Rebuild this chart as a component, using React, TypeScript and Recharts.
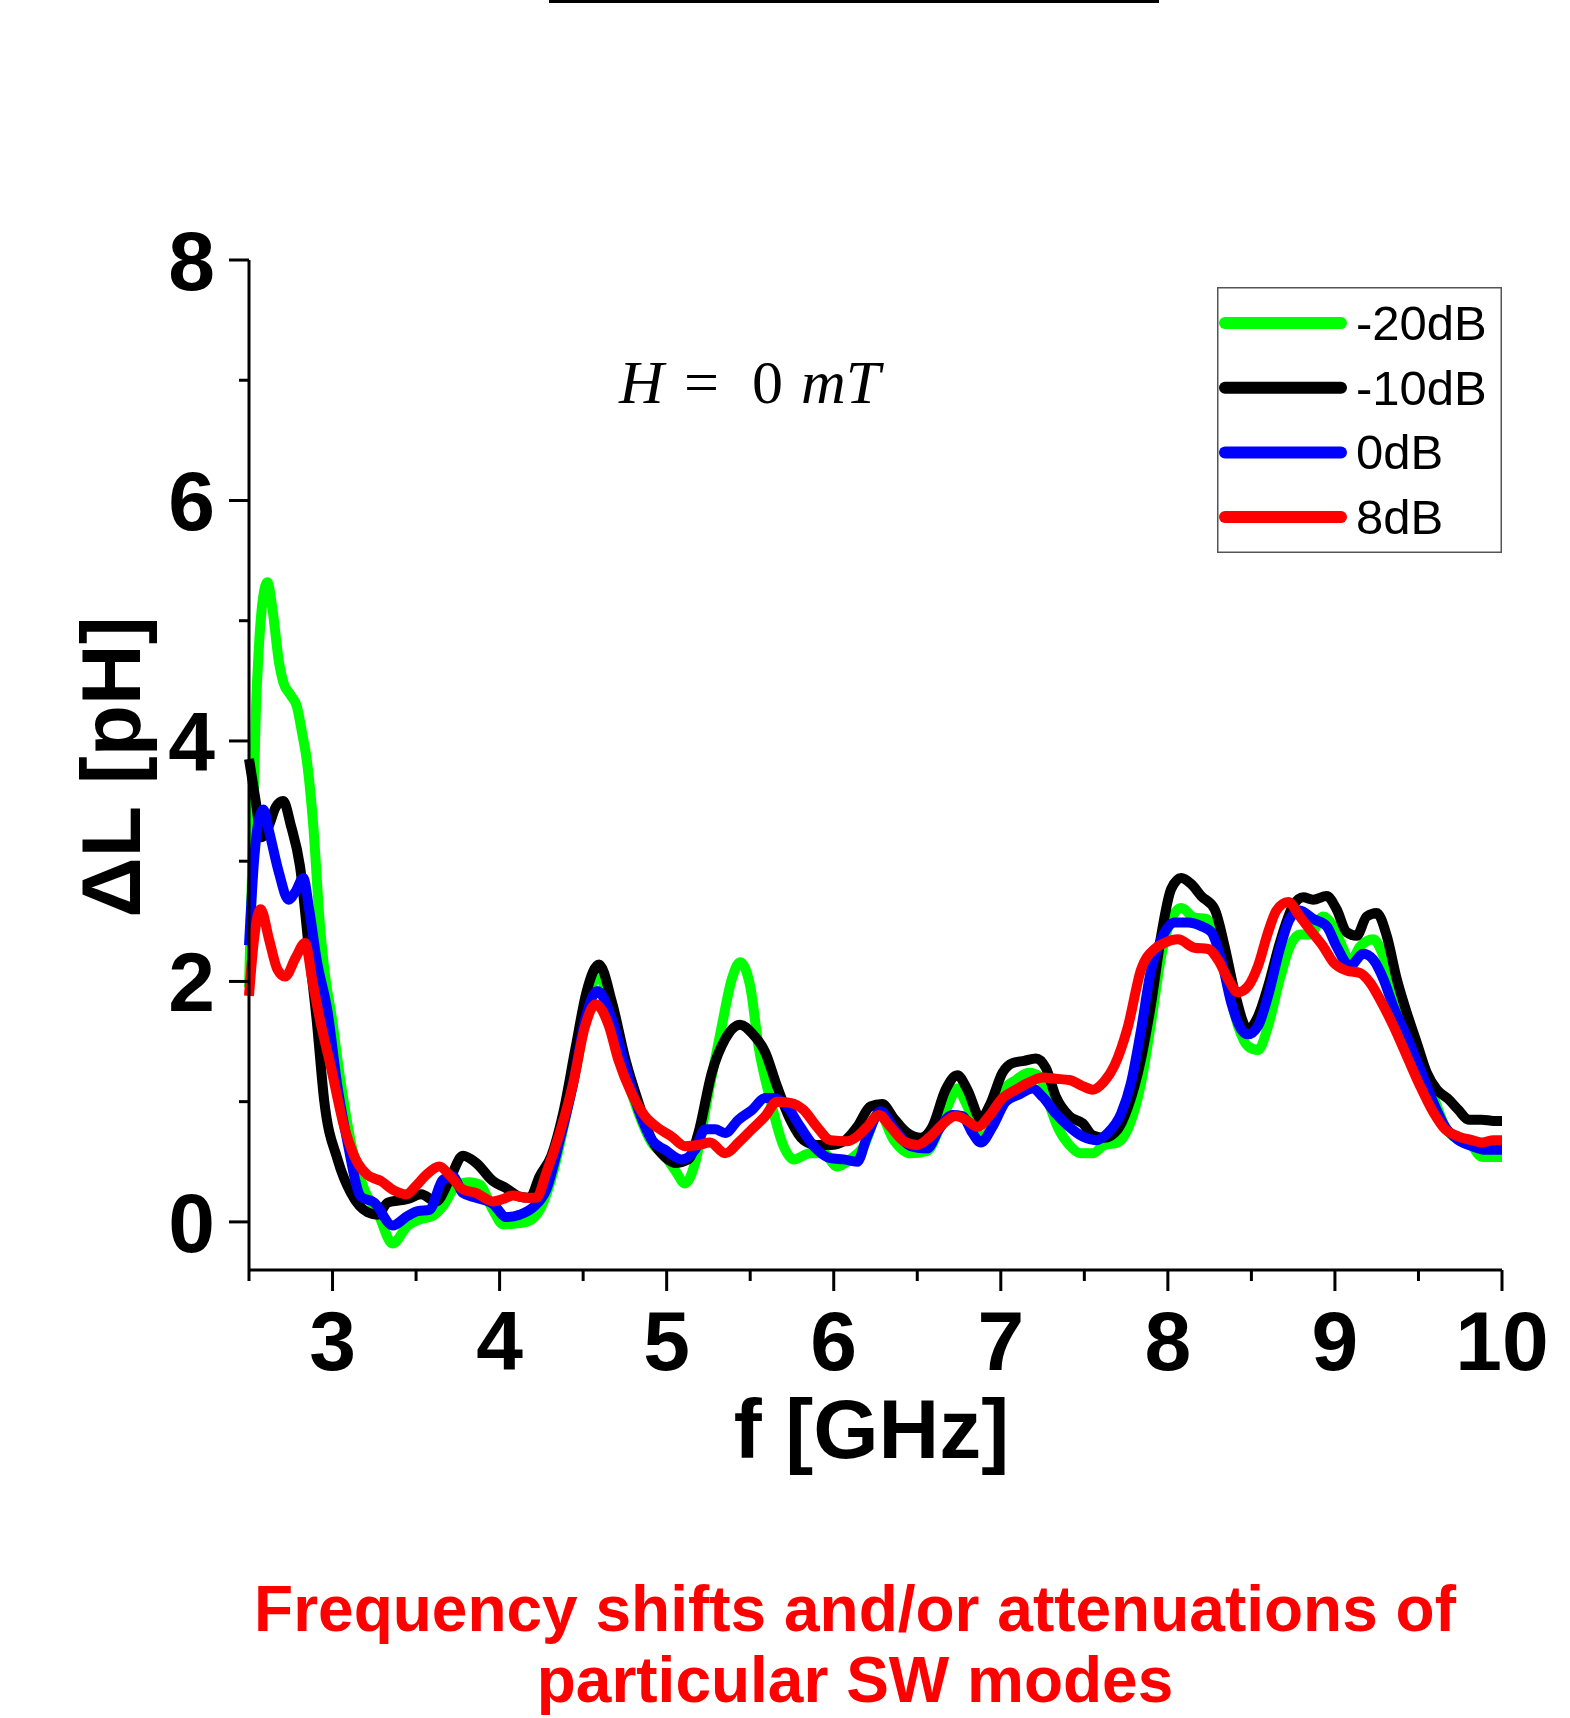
import { LineChart, Line, XAxis, YAxis, Legend, Label } from 'recharts';

// [f (GHz), ΔL (pH)]
const minus20dB: [number, number][] = [
  [2.5, 1.95], [2.52, 3.0], [2.54, 4.2], [2.56, 4.8], [2.585, 5.2], [2.61, 5.32], [2.64, 5.1], [2.68, 4.65],
  [2.705, 4.49], [2.75, 4.38], [2.786, 4.29], [2.82, 4.05], [2.845, 3.85], [2.885, 3.29], [2.925, 2.46], [2.96, 2.0],
  [2.99, 1.75], [3.05, 1.15], [3.11, 0.66], [3.19, 0.27], [3.27, 0.08], [3.36, -0.18], [3.45, -0.03], [3.52, 0.02],
  [3.6, 0.05], [3.66, 0.13], [3.74, 0.3], [3.82, 0.33], [3.88, 0.31], [3.96, 0.1], [4.02, -0.02], [4.12, -0.01],
  [4.18, 0.01], [4.24, 0.1], [4.32, 0.41], [4.4, 0.9], [4.48, 1.43], [4.53, 1.84], [4.595, 2.07], [4.65, 1.8],
  [4.7, 1.5], [4.753, 1.24], [4.83, 0.91], [4.91, 0.66], [4.99, 0.55], [5.05, 0.43], [5.11, 0.32], [5.17, 0.49],
  [5.25, 1.07], [5.33, 1.63], [5.39, 2.02], [5.44, 2.16], [5.5, 1.96], [5.55, 1.46], [5.62, 1.02], [5.7, 0.63],
  [5.76, 0.52], [5.86, 0.57], [5.94, 0.57], [6.02, 0.46], [6.1, 0.52], [6.18, 0.63], [6.27, 0.91], [6.36, 0.68],
  [6.46, 0.57], [6.56, 0.59], [6.63, 0.77], [6.69, 0.99], [6.74, 1.11], [6.79, 0.99], [6.85, 0.79], [6.89, 0.67],
  [6.95, 0.85], [7.02, 1.1], [7.09, 1.18], [7.17, 1.24], [7.23, 1.21], [7.28, 1.02], [7.34, 0.79], [7.41, 0.64],
  [7.48, 0.57], [7.55, 0.57], [7.62, 0.64], [7.7, 0.66], [7.76, 0.77], [7.84, 1.16], [7.9, 1.66], [7.96, 2.21],
  [8.02, 2.52], [8.08, 2.61], [8.16, 2.53], [8.23, 2.52], [8.3, 2.29], [8.36, 1.96], [8.42, 1.63], [8.48, 1.46],
  [8.54, 1.43], [8.6, 1.63], [8.67, 2.02], [8.73, 2.29], [8.79, 2.39], [8.85, 2.39], [8.93, 2.54], [8.99, 2.46],
  [9.05, 2.27], [9.09, 2.16], [9.15, 2.29], [9.23, 2.35], [9.29, 2.21], [9.35, 1.93], [9.43, 1.6], [9.51, 1.29],
  [9.59, 1.04], [9.66, 0.79], [9.74, 0.68], [9.82, 0.63], [9.88, 0.54], [9.95, 0.54], [10, 0.54],
];

const minus10dB: [number, number][] = [
  [2.5, 3.85], [2.54, 3.5], [2.576, 3.2], [2.62, 3.3], [2.66, 3.45], [2.705, 3.5], [2.75, 3.3], [2.805, 2.96],
  [2.865, 2.18], [2.905, 1.68], [2.95, 1.01], [3.03, 0.52], [3.11, 0.24], [3.21, 0.08], [3.27, 0.06], [3.33, 0.16],
  [3.45, 0.19], [3.53, 0.23], [3.62, 0.17], [3.7, 0.35], [3.78, 0.55], [3.86, 0.49], [3.96, 0.34], [4.04, 0.28],
  [4.12, 0.21], [4.18, 0.2], [4.24, 0.38], [4.31, 0.55], [4.38, 0.9], [4.455, 1.45], [4.52, 1.91], [4.595, 2.14],
  [4.674, 1.82], [4.753, 1.35], [4.832, 0.99], [4.912, 0.68], [4.99, 0.54], [5.05, 0.49], [5.13, 0.52], [5.19, 0.74],
  [5.27, 1.24], [5.35, 1.52], [5.44, 1.64], [5.51, 1.57], [5.59, 1.41], [5.66, 1.13], [5.74, 0.85], [5.82, 0.68],
  [5.9, 0.64], [5.98, 0.64], [6.06, 0.67], [6.14, 0.79], [6.22, 0.96], [6.29, 0.98], [6.36, 0.86], [6.44, 0.74],
  [6.52, 0.7], [6.59, 0.79], [6.67, 1.1], [6.74, 1.22], [6.8, 1.1], [6.88, 0.86], [6.94, 0.99], [7.01, 1.24],
  [7.07, 1.32], [7.14, 1.34], [7.21, 1.36], [7.27, 1.28], [7.33, 1.04], [7.41, 0.88], [7.49, 0.82], [7.55, 0.72],
  [7.62, 0.7], [7.7, 0.77], [7.76, 0.95], [7.84, 1.36], [7.9, 1.82], [7.96, 2.38], [8.02, 2.77], [8.08, 2.86],
  [8.14, 2.81], [8.2, 2.71], [8.28, 2.6], [8.34, 2.29], [8.4, 1.91], [8.48, 1.6], [8.54, 1.71], [8.6, 1.96],
  [8.67, 2.32], [8.75, 2.63], [8.81, 2.7], [8.87, 2.68], [8.95, 2.71], [9.01, 2.6], [9.07, 2.41], [9.13, 2.38],
  [9.19, 2.54], [9.25, 2.57], [9.31, 2.38], [9.37, 2.02], [9.43, 1.74], [9.49, 1.49], [9.55, 1.24], [9.61, 1.1],
  [9.68, 1.02], [9.74, 0.93], [9.8, 0.85], [9.88, 0.85], [9.95, 0.84], [10, 0.84],
];

const zero_dB: [number, number][] = [
  [2.5, 2.3], [2.53, 3.0], [2.56, 3.35], [2.586, 3.43], [2.62, 3.25], [2.68, 2.9], [2.736, 2.68], [2.78, 2.75],
  [2.825, 2.86], [2.86, 2.6], [2.905, 2.18], [2.97, 1.75], [3.03, 1.12], [3.09, 0.66], [3.17, 0.21], [3.25, 0.16],
  [3.36, -0.03], [3.45, 0.05], [3.51, 0.09], [3.58, 0.1], [3.66, 0.35], [3.72, 0.38], [3.78, 0.24], [3.86, 0.2],
  [3.96, 0.15], [4.04, 0.04], [4.12, 0.06], [4.2, 0.12], [4.28, 0.27], [4.36, 0.68], [4.44, 1.15], [4.51, 1.67],
  [4.585, 1.92], [4.674, 1.68], [4.753, 1.29], [4.832, 0.93], [4.912, 0.68], [4.99, 0.6], [5.09, 0.52], [5.17, 0.6],
  [5.23, 0.77], [5.29, 0.77], [5.35, 0.74], [5.43, 0.85], [5.51, 0.93], [5.59, 1.03], [5.64, 1.03], [5.72, 0.96],
  [5.8, 0.79], [5.9, 0.6], [5.98, 0.53], [6.06, 0.52], [6.14, 0.5], [6.2, 0.71], [6.28, 0.92], [6.36, 0.78],
  [6.46, 0.63], [6.56, 0.61], [6.63, 0.77], [6.71, 0.89], [6.77, 0.88], [6.83, 0.74], [6.88, 0.66], [6.95, 0.79],
  [7.03, 1.0], [7.11, 1.06], [7.19, 1.11], [7.25, 1.04], [7.33, 0.9], [7.41, 0.79], [7.49, 0.71], [7.57, 0.68],
  [7.64, 0.74], [7.72, 0.9], [7.78, 1.16], [7.84, 1.6], [7.9, 2.1], [7.96, 2.35], [8.04, 2.49], [8.12, 2.49],
  [8.2, 2.46], [8.26, 2.41], [8.32, 2.18], [8.38, 1.82], [8.44, 1.6], [8.48, 1.56], [8.54, 1.63], [8.6, 1.88],
  [8.67, 2.27], [8.73, 2.52], [8.79, 2.59], [8.87, 2.52], [8.95, 2.46], [9.01, 2.29], [9.09, 2.13], [9.17, 2.23],
  [9.23, 2.18], [9.29, 2.02], [9.35, 1.79], [9.43, 1.54], [9.51, 1.27], [9.59, 0.99], [9.66, 0.79], [9.74, 0.68],
  [9.82, 0.63], [9.9, 0.6], [10, 0.6],
];

const plus8dB: [number, number][] = [
  [2.5, 1.88], [2.53, 2.35], [2.57, 2.6], [2.62, 2.35], [2.67, 2.1], [2.716, 2.04], [2.78, 2.2], [2.835, 2.32],
  [2.88, 2.0], [2.925, 1.68], [2.99, 1.29], [3.07, 0.79], [3.15, 0.49], [3.21, 0.39], [3.29, 0.34], [3.37, 0.26],
  [3.44, 0.23], [3.5, 0.3], [3.56, 0.39], [3.64, 0.46], [3.7, 0.39], [3.78, 0.27], [3.86, 0.24], [3.96, 0.17],
  [4.02, 0.19], [4.08, 0.22], [4.16, 0.2], [4.22, 0.2], [4.28, 0.41], [4.36, 0.74], [4.44, 1.15], [4.51, 1.62],
  [4.575, 1.81], [4.654, 1.63], [4.71, 1.35], [4.79, 1.07], [4.87, 0.88], [4.95, 0.78], [5.03, 0.71], [5.11, 0.63],
  [5.19, 0.64], [5.26, 0.66], [5.35, 0.57], [5.43, 0.66], [5.51, 0.77], [5.59, 0.88], [5.66, 1.0], [5.74, 0.99],
  [5.82, 0.93], [5.9, 0.79], [5.98, 0.68], [6.08, 0.67], [6.14, 0.71], [6.2, 0.79], [6.27, 0.89], [6.34, 0.79],
  [6.42, 0.67], [6.5, 0.64], [6.57, 0.7], [6.65, 0.81], [6.73, 0.88], [6.79, 0.85], [6.86, 0.79], [6.93, 0.88],
  [7.01, 1.03], [7.09, 1.1], [7.17, 1.16], [7.25, 1.2], [7.33, 1.19], [7.41, 1.18], [7.49, 1.13], [7.55, 1.1],
  [7.62, 1.17], [7.68, 1.3], [7.76, 1.62], [7.84, 2.1], [7.92, 2.27], [7.98, 2.32], [8.06, 2.35], [8.16, 2.28],
  [8.24, 2.27], [8.3, 2.18], [8.36, 2.02], [8.42, 1.91], [8.48, 1.96], [8.54, 2.13], [8.6, 2.41], [8.65, 2.59],
  [8.72, 2.66], [8.79, 2.54], [8.85, 2.43], [8.93, 2.29], [8.99, 2.16], [9.07, 2.09], [9.15, 2.07], [9.21, 1.99],
  [9.27, 1.85], [9.35, 1.63], [9.43, 1.38], [9.51, 1.13], [9.59, 0.91], [9.66, 0.77], [9.74, 0.71], [9.82, 0.68],
  [9.88, 0.66], [9.95, 0.68], [10, 0.68],
];

const xTicks = [2.5, 3, 3.5, 4, 4.5, 5, 5.5, 6, 6.5, 7, 7.5, 8, 8.5, 9, 9.5, 10];
const yTicks = [0, 1, 2, 3, 4, 5, 6, 7, 8];

const series = [
  { name: '-20dB', color: '#00ff00', points: minus20dB },
  { name: '-10dB', color: '#000000', points: minus10dB },
  { name: '0dB', color: '#0000ff', points: zero_dB },
  { name: '8dB', color: '#ff0000', points: plus8dB },
];

const SANS = '"Liberation Sans", Arial, sans-serif';
const SERIF = '"Liberation Serif", "Times New Roman", serif';

function XTick({ x, y, payload }: any) {
  const major = Number.isInteger(payload.value);
  return (
    <g>
      <line x1={x} x2={x} y1={y} y2={y + (major ? 21 : 11)} stroke="#000" strokeWidth={3} />
      {major && (
        <text x={x} y={y + 100} textAnchor="middle" fontSize={84} fontWeight="bold" fontFamily={SANS} fill="#000">
          {payload.value}
        </text>
      )}
    </g>
  );
}

function YTick({ x, y, payload }: any) {
  const major = payload.value % 2 === 0;
  return (
    <g>
      <line x1={x - (major ? 20 : 10)} x2={x} y1={y} y2={y} stroke="#000" strokeWidth={3} />
      {major && (
        <text x={x - 34} y={y + 30} textAnchor="end" fontSize={84} fontWeight="bold" fontFamily={SANS} fill="#000">
          {payload.value}
        </text>
      )}
    </g>
  );
}

// legend keeps the series order (recharts would sort it by name)
function LegendBox() {
  return (
    <svg width={285} height={266} style={{ display: 'block' }}>
      <rect x={0.75} y={0.75} width={283.5} height={264.5} fill="#fff" stroke="#555" strokeWidth={1.5} />
      {series.map((s, i) => {
        const cy = 36 + i * 64.7;
        return (
          <g key={s.name}>
            <line x1={8} x2={124} y1={cy} y2={cy} stroke={s.color} strokeWidth={12} strokeLinecap="round" />
            <text x={139} y={cy + 17} fontSize={49} fontFamily={SANS} fill="#000">
              {s.name}
            </text>
          </g>
        );
      })}
    </svg>
  );
}

export default function App() {
  return (
    <div style={{ position: 'absolute', left: 0, top: 0, width: 1570, height: 1718, background: '#fff' }}>
      <LineChart width={1570} height={1718} margin={{ top: 260, right: 68, bottom: 418, left: 189 }}>
        <XAxis
          type="number"
          dataKey="f"
          domain={[2.5, 10]}
          ticks={xTicks}
          interval={0}
          height={30}
          tickSize={0}
          tickMargin={0}
          axisLine={{ stroke: '#000', strokeWidth: 3 }}
          tickLine={false}
          tick={(p: any) => <XTick {...p} />}
        >
          <Label
            content={(p: any) => {
              const vb = p.viewBox || {};
              return (
                <text x={vb.x + vb.width / 2 - 4} y={vb.y + 188} textAnchor="middle" fontSize={84} fontWeight="bold" fontFamily={SANS} fill="#000">
                  f [GHz]
                </text>
              );
            }}
          />
        </XAxis>
        <YAxis
          type="number"
          domain={[-0.4, 8]}
          ticks={yTicks}
          interval={0}
          width={60}
          tickSize={0}
          tickMargin={0}
          axisLine={{ stroke: '#000', strokeWidth: 3 }}
          tickLine={false}
          tick={(p: any) => <YTick {...p} />}
        >
          <Label
            content={(p: any) => {
              const vb = p.viewBox || {};
              const cy = vb.y + vb.height / 2 + 2;
              return (
                <text x={140} y={cy} transform={`rotate(-90 140 ${cy})`} textAnchor="middle" fontSize={84} fontWeight="bold" fontFamily={SANS} fill="#000">
                  ΔL [pH]
                </text>
              );
            }}
          />
        </YAxis>
        <Legend
          layout="vertical"
          align="center"
          verticalAlign="middle"
          content={() => <LegendBox />}
          wrapperStyle={{ left: 1217, top: 287, width: 285, height: 266 }}
        />
        {series.map((s) => (
          <Line
            key={s.name}
            name={s.name}
            data={s.points.map(([f, L]) => ({ f, L }))}
            dataKey="L"
            type="monotone"
            stroke={s.color}
            strokeWidth={10}
            strokeLinejoin="round"
            dot={false}
            activeDot={false}
            isAnimationActive={false}
          />
        ))}
      </LineChart>
      <svg width={1570} height={1718} style={{ position: 'absolute', left: 0, top: 0, pointerEvents: 'none' }}>
        <rect x={549} y={0} width={610} height={3} fill="#000" />
        <text y={403} fontSize={62} fontFamily={SERIF} fill="#000">
          <tspan x={619} fontStyle="italic">H</tspan>
          <tspan x={684}>=</tspan>
          <tspan x={752}>0</tspan>
          <tspan x={801} fontStyle="italic">mT</tspan>
        </text>
        <text x={855} y={1631} textAnchor="middle" fontSize={64} fontWeight="bold" fontFamily={SANS} fill="#ff0000">
          Frequency shifts and/or attenuations of
        </text>
        <text x={855} y={1702} textAnchor="middle" fontSize={64} fontWeight="bold" fontFamily={SANS} fill="#ff0000">
          particular SW modes
        </text>
      </svg>
    </div>
  );
}
